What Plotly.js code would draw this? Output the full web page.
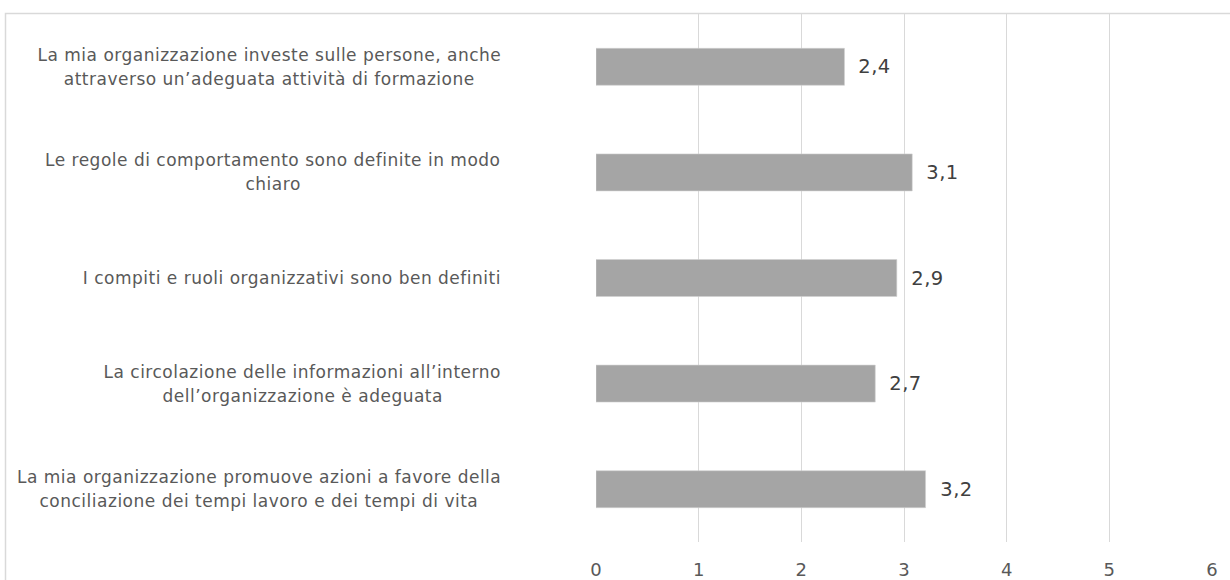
<!DOCTYPE html>
<html>
<head>
<meta charset="utf-8">
<script src="https://cdn.plot.ly/plotly-3.0.1.min.js"></script>
<style>
html,body{margin:0;padding:0;background:#fff;}
#chart{width:1230px;height:580px;}
#chart text.annotation-text{letter-spacing:0.5px;}
</style>
</head>
<body>
<div id="chart"></div>
<script>
// Data
const categoryLines = [
  ["La mia organizzazione investe sulle persone, anche", "attraverso un’adeguata attività di formazione"],
  ["Le regole di comportamento sono definite in modo", "chiaro"],
  ["I compiti e ruoli organizzativi sono ben definiti"],
  ["La circolazione delle informazioni all’interno", "dell’organizzazione è adeguata"],
  ["La mia organizzazione promuove azioni a favore della", "conciliazione dei tempi lavoro e dei tempi di vita"]
];
const categories = categoryLines.map(l => l.join(" "));
const values = [2.42, 3.08, 2.93, 2.72, 3.21];
const xTicks = [0, 1, 2, 3, 4, 5, 6];

// Layout constants
const W = 1230, H = 580;
const mL = 596, mR = 18, mT = 14, mB = 38;
const pw = W - mL - mR;
const FONT = "DejaVu Sans, Verdana, sans-serif";
const CAT_SIZE = 17;
const labelRight = 501;
const lineGap = 24;

const canvas = document.createElement("canvas");
const ctx = canvas.getContext("2d");
ctx.font = CAT_SIZE + "px 'DejaVu Sans'";
try { ctx.letterSpacing = "0.5px"; } catch (e) {}

const annotations = [];
categoryLines.forEach((lines, i) => {
  const widths = lines.map(t => ctx.measureText(t).width);
  const maxW = Math.max(...widths);
  const cx = labelRight - maxW / 2;
  lines.forEach((t, j) => {
    annotations.push({
      xref: "paper", yref: "y",
      x: (cx - mL) / pw, y: categories[i],
      xanchor: "center", yanchor: "middle",
      text: t, showarrow: false,
      yshift: ((lines.length - 1) / 2 - j) * lineGap,
      font: {family: FONT, size: CAT_SIZE, color: "#595959"}
    });
  });
});
values.forEach((v, i) => {
  annotations.push({
    xref: "x", yref: "y", x: v, y: categories[i],
    xanchor: "left", yanchor: "middle",
    text: v.toFixed(1).replace(".", ","),
    showarrow: false, xshift: 13,
    font: {family: FONT, size: 19.5, color: "#404040"}
  });
});

const trace = {
  type: "bar", orientation: "h",
  x: values, y: categories,
  marker: {color: "#a5a5a5", line: {color: "#d0d0d0", width: 0.6}},
  hoverinfo: "skip"
};

const layout = {
  width: W, height: H,
  margin: {l: mL, r: mR, t: mT, b: mB, pad: 0},
  paper_bgcolor: "#ffffff", plot_bgcolor: "#ffffff",
  showlegend: false,
  bargap: 0.65,
  font: {family: FONT, size: 16, color: "#595959"},
  xaxis: {
    range: [0, 6], tickvals: xTicks, ticktext: xTicks.map(String),
    showgrid: true, gridcolor: "#d9d9d9", gridwidth: 1,
    zeroline: false, showline: false, ticks: "",
    ticklabelstandoff: 15,
    tickfont: {family: FONT, size: 18, color: "#595959"},
    fixedrange: true
  },
  yaxis: {
    type: "category", autorange: "reversed",
    showticklabels: false, showgrid: false, zeroline: false, showline: false,
    ticks: "", fixedrange: true
  },
  annotations: annotations,
  shapes: [{
    type: "rect", xref: "paper", yref: "paper",
    x0: (5.5 - mL) / pw, x1: (W + 20 - mL) / pw,
    y0: -(mB + 20) / (H - mT - mB), y1: 1 + 0.5 / (H - mT - mB),
    line: {color: "#d9d9d9", width: 1.5}, fillcolor: "rgba(0,0,0,0)", layer: "below"
  }]
};

Plotly.newPlot("chart", [trace], layout, {displayModeBar: false, staticPlot: true});
</script>
</body>
</html>
